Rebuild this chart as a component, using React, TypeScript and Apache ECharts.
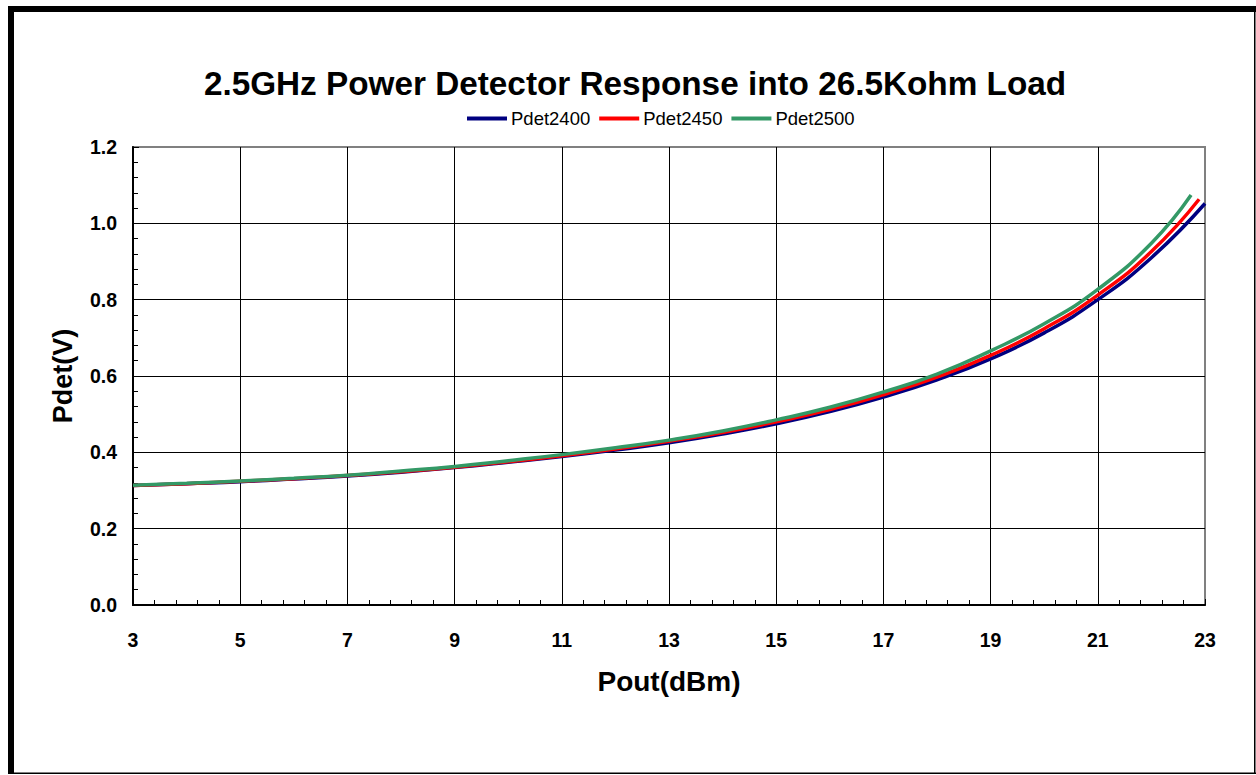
import React, { useEffect, useRef } from "react";
import * as echarts from "echarts";

const TITLE = "2.5GHz Power Detector Response into 26.5Kohm Load";
const SERIES_NAMES = ["Pdet2400", "Pdet2450", "Pdet2500"];
const SERIES_COLORS = ["#000080", "#FF0000", "#339966"];

const pout2400 = [3, 4, 5, 6, 7, 8, 9, 10, 11, 12, 13, 14, 15, 16, 17, 18, 19, 20, 21, 22, 23];
const pdet2400 = [0.313, 0.318, 0.323, 0.33, 0.338, 0.348, 0.36, 0.374, 0.389, 0.406, 0.425, 0.448, 0.475, 0.507, 0.545, 0.59, 0.645, 0.713, 0.8, 0.91, 1.052];

const pout2450 = [3, 4, 5, 6, 7, 8, 9, 10, 11, 12, 13, 14, 15, 16, 17, 18, 19, 20, 21, 22, 22.89];
const pdet2450 = [0.313, 0.318, 0.324, 0.331, 0.339, 0.349, 0.361, 0.375, 0.391, 0.409, 0.429, 0.452, 0.48, 0.512, 0.551, 0.597, 0.654, 0.724, 0.812, 0.926, 1.063];

const pout2500 = [3, 4, 5, 6, 7, 8, 9, 10, 11, 12, 13, 14, 15, 16, 17, 18, 19, 20, 21, 22, 22.74];
const pdet2500 = [0.314, 0.319, 0.325, 0.332, 0.34, 0.351, 0.363, 0.378, 0.394, 0.412, 0.432, 0.456, 0.485, 0.518, 0.558, 0.605, 0.666, 0.737, 0.827, 0.948, 1.074];

const X_MIN = 3;
const X_MAX = 23;
const X_STEP = 2;
const Y_MIN = 0;
const Y_MAX = 1.2;
const Y_STEP = 0.2;

const FONT = "'Liberation Sans', Arial, sans-serif";

export default function App() {
  const ref = useRef<HTMLDivElement>(null);

  useEffect(() => {
    if (!ref.current) return;
    const chart = echarts.init(ref.current, null, { renderer: "svg" });
    const xs = [pout2400, pout2450, pout2500];
    const ys = [pdet2400, pdet2450, pdet2500];

    const ySplitColors = ["#000", "#000", "#000", "#000", "#000", "#000", "#808080"];
    const xSplitColors = ["#000", "#000", "#000", "#000", "#000", "#000", "#000", "#000", "#000", "#000", "#808080"];

    chart.setOption({
      animation: false,
      backgroundColor: "#ffffff",
      textStyle: { fontFamily: FONT },
      title: {
        text: TITLE,
        left: 630,
        textAlign: "center",
        top: 62,
        textStyle: { fontFamily: FONT, fontSize: 33.3, fontWeight: "bold", color: "#000" },
      },
      legend: {
        data: SERIES_NAMES,
        left: 467,
        top: 109,
        padding: 0,
        icon: "rect",
        itemWidth: 40,
        itemHeight: 4,
        itemGap: 9,
        textStyle: { fontFamily: FONT, fontSize: 18.5, color: "#000", padding: [0, 0, 0, -1] },
      },
      grid: {
        left: 133,
        top: 147,
        right: 51,
        bottom: 170,
        show: true,
        borderColor: "#808080",
        borderWidth: 2,
        backgroundColor: "#fff",
      },
      xAxis: {
        type: "value",
        min: X_MIN,
        max: X_MAX,
        interval: X_STEP,
        name: "Pout(dBm)",
        nameLocation: "middle",
        nameGap: 62,
        nameTextStyle: { fontFamily: FONT, fontSize: 28, fontWeight: "bold", color: "#000" },
        axisLine: { show: true, onZero: false, lineStyle: { color: "#000", width: 2 } },
        axisTick: { show: true, inside: true, length: 6, lineStyle: { color: "#000" } },
        minorTick: { show: true, splitNumber: 5, length: 5, lineStyle: { color: "#000" } },
        axisLabel: {
          margin: 25,
          fontFamily: FONT,
          fontSize: 19.5,
          fontWeight: "bold",
          color: "#000",
          formatter: (v: number) => String(v),
        },
        splitLine: { show: true, lineStyle: { color: xSplitColors, width: 1 } },
      },
      yAxis: {
        type: "value",
        min: Y_MIN,
        max: Y_MAX,
        interval: Y_STEP,
        name: "Pdet(V)",
        nameLocation: "middle",
        nameGap: 57,
        nameRotate: 90,
        nameTextStyle: { fontFamily: FONT, fontSize: 27, fontWeight: "bold", color: "#000" },
        axisLine: { show: true, onZero: false, lineStyle: { color: "#000", width: 2 } },
        axisTick: { show: true, inside: true, length: 6, lineStyle: { color: "#000" } },
        minorTick: { show: true, splitNumber: 5, length: 5, lineStyle: { color: "#000" } },
        axisLabel: {
          margin: 16,
          fontFamily: FONT,
          fontSize: 19.5,
          fontWeight: "bold",
          color: "#000",
          formatter: (v: number) => v.toFixed(1),
        },
        splitLine: { show: true, lineStyle: { color: ySplitColors, width: 1 } },
      },
      series: SERIES_NAMES.map((name, i) => ({
        name,
        type: "line",
        smooth: true,
        showSymbol: false,
        symbol: "none",
        clip: true,
        lineStyle: { color: SERIES_COLORS[i], width: 3.5 },
        itemStyle: { color: SERIES_COLORS[i] },
        data: xs[i].map((x, j) => [x, ys[i][j]]),
        z: 3 + i,
      })),
      graphic: [
        { type: "rect", shape: { x: 8, y: 6, width: 6, height: 768 }, style: { fill: "#000" }, silent: true },
        { type: "rect", shape: { x: 8, y: 6, width: 1248, height: 6 }, style: { fill: "#000" }, silent: true },
        { type: "rect", shape: { x: 1254, y: 6, width: 1.5, height: 768 }, style: { fill: "#000" }, silent: true },
        { type: "rect", shape: { x: 8, y: 772.5, width: 1248, height: 1.5 }, style: { fill: "#000" }, silent: true },
      ],
    });

    return () => chart.dispose();
  }, []);

  return (
    <div
      ref={ref}
      style={{ position: "absolute", left: 0, top: 0, width: 1256, height: 775, background: "#fff" }}
    />
  );
}
